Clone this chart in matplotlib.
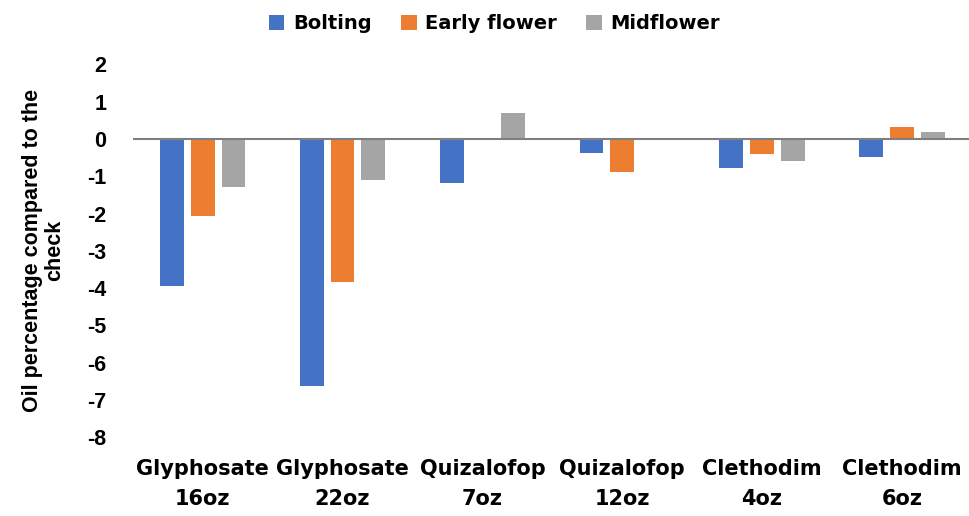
import matplotlib
matplotlib.use("Agg")
import matplotlib.pyplot as plt
import numpy as np

categories = ["Glyphosate\n16oz", "Glyphosate\n22oz", "Quizalofop\n7oz",
              "Quizalofop\n12oz", "Clethodim\n4oz", "Clethodim\n6oz"]
series_names = ["Bolting", "Early flower", "Midflower"]
bolting = [-3.95, -6.64, -1.19, -0.38, -0.79, -0.49]
early_flower = [-2.07, -3.84, 0.0, -0.89, -0.40, 0.31]
midflower = [-1.29, -1.10, 0.71, 0.0, -0.59, 0.19]
yticks = [2, 1, 0, -1, -2, -3, -4, -5, -6, -7, -8]

colors = ["#4472C4", "#ED7D31", "#A5A5A5"]
heavy = ["DejaVu Sans"]
arial = ["Liberation Sans", "DejaVu Sans"]

fig = plt.figure(figsize=(9.69, 5.16), dpi=100)
ax = fig.add_axes([0.137, 0.153, 0.866, 0.722])

x = np.arange(len(categories))
w = 0.17
off = 0.22
for i, (vals, name) in enumerate(zip([bolting, early_flower, midflower], series_names)):
    ax.bar(x + (i - 1) * off, vals, width=w, color=colors[i], label=name, zorder=2)

ax.set_xlim(-0.5, len(categories) - 0.5)
ax.set_ylim(-8, 2)
ax.set_yticks(yticks)
ax.set_yticklabels([str(t) for t in yticks], fontsize=15.5, fontweight="bold", family=arial)
ax.axhline(0, color="#7F7F7F", linewidth=1.5, zorder=3)
for s in ax.spines.values():
    s.set_visible(False)
ax.tick_params(axis="both", length=0)
ax.tick_params(axis="y", pad=19)
ax.set_xticks([])
for xi, lab in zip(x, categories):
    ax.text(xi, -8.6, lab, ha="center", va="top", fontsize=15, fontweight="bold",
            family=heavy, linespacing=1.6, transform=ax.transData, clip_on=False)

ax.set_ylabel("Oil percentage compared to the\ncheck", fontsize=15.5, fontweight="bold",
              family=arial, labelpad=16, linespacing=1.05)

leg = ax.legend(loc="center", bbox_to_anchor=(0.431, 1.11), ncol=3, frameon=False,
                prop={"family": heavy, "weight": "bold", "size": 14},
                handlelength=0.8, handleheight=0.8, handletextpad=0.45, columnspacing=1.5)

fig.savefig("out.png", dpi=100)
